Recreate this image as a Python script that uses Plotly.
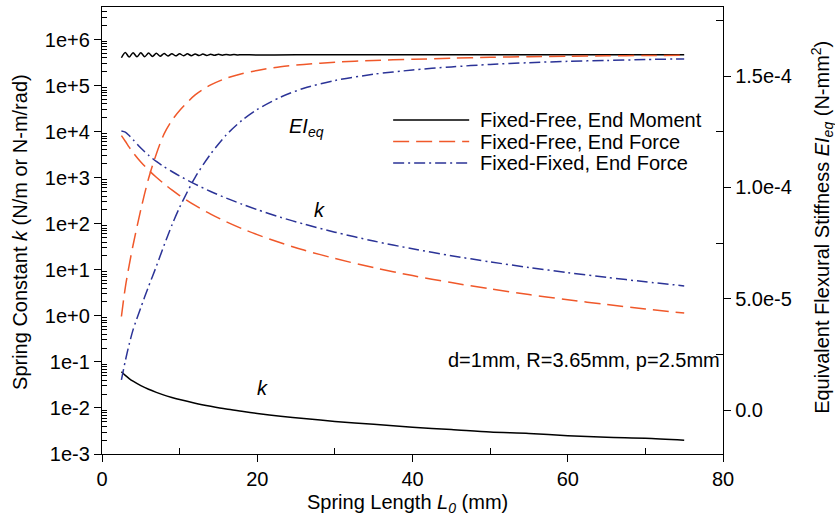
import plotly.graph_objects as go

# ---------------- data ----------------
L = [2.5, 3, 3.5, 4, 5, 6, 7, 8, 9, 10, 12, 14, 16, 18, 20, 23, 26, 30,
     35, 40, 45, 50, 55, 60, 65, 70, 75]

# spring constants k (left, log axis)
k_moment = [0.0609, 0.0508, 0.0435, 0.0381, 0.0305, 0.0254, 0.0218, 0.0190,
            0.0169, 0.0152, 0.0127, 0.0109, 0.0095, 0.0085, 0.0076, 0.0066,
            0.0059, 0.0051, 0.0044, 0.0038, 0.0034, 0.0030, 0.0028, 0.0025,
            0.0023, 0.0022, 0.0020]
k_free = [8171, 6193, 4609, 3515, 2189, 1464, 1019, 736, 542, 408.9, 249,
          161.7, 110.6, 78.7, 57.95, 38.5, 26.8, 17.6, 11.13, 7.48, 5.27,
          3.85, 2.90, 2.236, 1.761, 1.411, 1.148]
k_fixed = [10333, 9745, 8229, 6728, 4401, 3073, 2249, 1729, 1362, 1088, 723,
           501, 360.6, 266.6, 201.8, 138.1, 98.3, 65.6, 42.07, 28.54, 20.23,
           14.85, 11.21, 8.67, 6.84, 5.49, 4.47]

# equivalent flexural stiffness EI_eq (right axis, N-mm^2)
EI_free = [4.2e-5, 5.5e-5, 6.5e-5, 7.4e-5, 9.0e-5, 10.4e-5, 11.5e-5, 12.4e-5,
           13.0e-5, 13.45e-5, 14.15e-5, 14.6e-5, 14.9e-5, 15.1e-5, 15.25e-5,
           15.42e-5, 15.52e-5, 15.62e-5, 15.70e-5, 15.75e-5, 15.80e-5,
           15.84e-5, 15.87e-5, 15.89e-5, 15.91e-5, 15.92e-5, 15.93e-5]
EI_fixed = [1.35e-5, 2.2e-5, 2.95e-5, 3.6e-5, 4.6e-5, 5.55e-5, 6.45e-5,
            7.4e-5, 8.3e-5, 9.1e-5, 10.45e-5, 11.5e-5, 12.35e-5, 13.0e-5,
            13.5e-5, 14.05e-5, 14.45e-5, 14.8e-5, 15.08e-5, 15.27e-5,
            15.41e-5, 15.52e-5, 15.60e-5, 15.66e-5, 15.70e-5, 15.74e-5,
            15.77e-5]

L_moment_EI = [2.5, 3.0, 3.5, 4.0, 4.5, 5.0, 5.5, 6.0, 6.5, 7.0, 7.5, 8.0,
               8.5, 9.0, 9.5, 10.0, 10.5, 11.0, 11.5, 12.0, 12.5, 13.0, 13.5,
               14.0, 14.5, 15.0, 15.5, 16.0, 16.5, 17.0, 17.5, 18.0, 19.0,
               25, 30, 35, 40, 45, 50, 55, 60, 65, 70, 75]
EI_moment = [15.82e-5, 16.06e-5, 15.85e-5, 16.05e-5, 15.86e-5, 16.04e-5,
             15.87e-5, 16.03e-5, 15.88e-5, 16.02e-5, 15.89e-5, 16.01e-5,
             15.90e-5, 16.005e-5, 15.905e-5, 16.0e-5, 15.91e-5, 15.995e-5,
             15.915e-5, 15.99e-5, 15.92e-5, 15.985e-5, 15.925e-5, 15.98e-5,
             15.93e-5, 15.975e-5, 15.935e-5, 15.97e-5, 15.94e-5, 15.965e-5,
             15.945e-5, 15.96e-5, 15.95e-5,
             15.95e-5, 15.95e-5, 15.95e-5, 15.95e-5, 15.95e-5, 15.95e-5,
             15.95e-5, 15.95e-5, 15.95e-5, 15.95e-5, 15.95e-5]

series_names = ["Fixed-Free, End Moment", "Fixed-Free, End Force",
                "Fixed-Fixed, End Force"]

x_ticks = [0, 20, 40, 60, 80]
x_minor = [10, 30, 50, 70]
y_ticks = [1e-3, 1e-2, 1e-1, 1e0, 1e1, 1e2, 1e3, 1e4, 1e5, 1e6]
y_ticktext = ["1e-3", "1e-2", "1e-1", "1e+0", "1e+1", "1e+2", "1e+3",
              "1e+4", "1e+5", "1e+6"]
y2_ticks = [0, 5e-5, 1e-4, 1.5e-4]
y2_ticktext = ["0.0", "5.0e-5", "1.0e-4", "1.5e-4"]
y2_minor = [2.5e-5, 7.5e-5, 1.25e-4, 1.75e-4]

# ---------------- styling ----------------
BLACK = "#000000"
RED = "#F0582A"
BLUE = "#2B3397"
DASH_RED = "16px,7px"
DASH_BLUE = "11px,4px,2px,4px"
FONT = "Liberation Sans, Arial, sans-serif"

y_minor = [m * d for d in y_ticks for m in range(2, 10) if m * d < 5.0e6]

fig = go.Figure()

def add(x, y, color, dash, axis):
    fig.add_trace(go.Scatter(
        x=x, y=y, mode="lines", yaxis=axis, showlegend=False,
        line=dict(color=color, width=1.5, dash=dash, shape="spline",
                  smoothing=0.8),
        hoverinfo="skip"))

add(L, k_moment, BLACK, "solid", "y")
add(L, k_free, RED, DASH_RED, "y")
add(L, k_fixed, BLUE, DASH_BLUE, "y")
add(L_moment_EI, EI_moment, BLACK, "solid", "y2")
add(L, EI_free, RED, DASH_RED, "y2")
add(L, EI_fixed, BLUE, DASH_BLUE, "y2")

axis_common = dict(showline=True, linecolor="black", linewidth=1.3,
                   showgrid=False, zeroline=False, ticks="outside",
                   ticklen=7, tickwidth=1.3, tickcolor="black",
                   tickfont=dict(size=20, family=FONT, color="black"))

fig.update_layout(
    width=835, height=522,
    margin=dict(l=102, r=112, t=7, b=68),
    paper_bgcolor="white", plot_bgcolor="white",
    font=dict(family=FONT, size=20, color="black"),
    showlegend=False,
    xaxis=dict(range=[0, 80], tickmode="array", tickvals=x_ticks,
               mirror=True,
               minor=dict(tickmode="array", tickvals=x_minor, ticks="inside",
                          ticklen=6, tickwidth=1.3, tickcolor="black",
                          showgrid=False),
               **axis_common),
    yaxis=dict(type="log", range=[-3, 6.706], tickmode="array",
               tickvals=y_ticks, ticktext=y_ticktext, mirror=True,
               minor=dict(tickmode="array", tickvals=y_minor, ticks="inside",
                          ticklen=5, tickwidth=1, tickcolor="black",
                          showgrid=False),
               **axis_common),
    yaxis2=dict(overlaying="y", side="right", range=[-1.976e-5, 1.81e-4],
                tickmode="array", tickvals=y2_ticks, ticktext=y2_ticktext,
                minor=dict(tickmode="array", tickvals=y2_minor,
                           ticks="inside", ticklen=7, tickwidth=1.3,
                           tickcolor="black", showgrid=False),
                **axis_common),
)

# plot-area pixel helpers for annotation placement
PL, PR, PT, PB = 102, 722.7, 7, 454
def px(xp):
    return (xp - PL) / (PR - PL)
def py(yp):
    return (PB - yp) / (PB - PT)

ann = []
# axis titles
ann.append(dict(text="Spring Constant <i>k</i> (N/m or N-m/rad)",
                x=px(20), y=py(232), textangle=-90))
ann.append(dict(text="Equivalent Flexural Stiffness <i>EI</i><sub><i>eq</i></sub> (N-mm<sup>2</sup>)",
                x=px(821.5), y=py(227), textangle=-90))
ann.append(dict(text="Spring Length <i>L<sub>0</sub></i> (mm)",
                x=px(407), y=py(504)))
# in-plot labels
ann.append(dict(text="<i>EI</i><sub><i>eq</i></sub>", x=px(287), y=py(128),
                xanchor="left"))
ann.append(dict(text="<i>k</i>", x=px(319), y=py(210)))
ann.append(dict(text="<i>k</i>", x=px(262), y=py(388)))
ann.append(dict(text="d=1mm, R=3.65mm, p=2.5mm", x=px(722), y=py(360),
                xanchor="right"))

# custom legend (long line samples like the original)
leg_rows = [120, 141.5, 163]
leg_styles = [(BLACK, "solid"), (RED, DASH_RED), (BLUE, DASH_BLUE)]
for name, yrow, (col, dsh) in zip(series_names, leg_rows, leg_styles):
    fig.add_shape(type="line", xref="paper", yref="paper",
                  x0=px(393), x1=px(469), y0=py(yrow), y1=py(yrow),
                  line=dict(color=col, width=1.5, dash=dsh))
    ann.append(dict(text=name, x=px(478), y=py(yrow), xanchor="left"))

for a in ann:
    a.setdefault("xanchor", "center")
    fig.add_annotation(xref="paper", yref="paper", showarrow=False,
                       yanchor="middle", font=dict(size=20, family=FONT,
                                                   color="black"), **a)

fig.write_html("out.html")
